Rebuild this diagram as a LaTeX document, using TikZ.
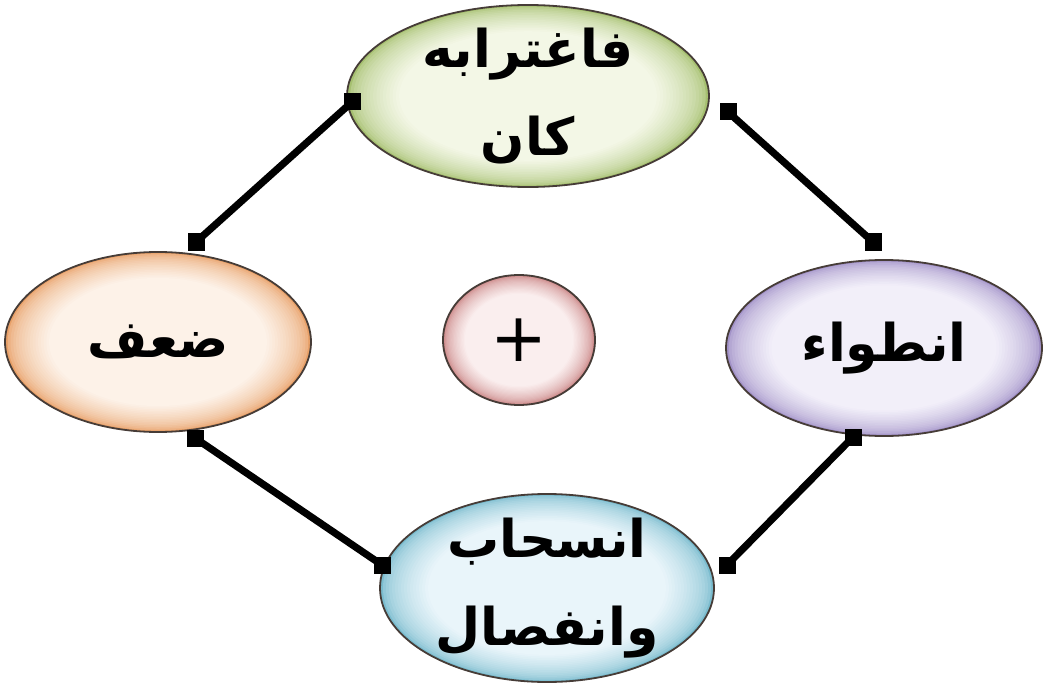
\documentclass[tikz,border=0pt]{standalone}
\usepackage{fontspec}
\TeXXeTstate=1
\newfontfamily\arabicfont[Script=Arabic]{DejaVu Sans}
\newfontfamily\plusfont{DejaVu Sans}
\definecolor{grnO}{RGB}{166,192,112}
\definecolor{grnI}{RGB}{243,247,230}
\definecolor{orgO}{RGB}{232,160,104}
\definecolor{orgI}{RGB}{253,242,232}
\definecolor{purO}{RGB}{162,146,200}
\definecolor{purI}{RGB}{242,239,249}
\definecolor{bluO}{RGB}{122,188,206}
\definecolor{bluI}{RGB}{233,245,250}
\definecolor{pnkO}{RGB}{200,128,128}
\definecolor{pnkI}{RGB}{250,238,238}
\definecolor{rim}{RGB}{70,60,55}
\usetikzlibrary{shapes.geometric}
\newcommand\bubfill[5]{%
  \foreach \i in {0,...,16}{%
    \pgfmathsetmacro\s{1-0.018*\i}%
    \pgfmathtruncatemacro\p{min(100,round(100*(\i/16)^0.55))}%
    \fill[#5!\p!#4] #1 ellipse [x radius={\s*#2pt}, y radius={\s*#3pt}];
  }%
  \draw[rim, line width=0.9pt] #1 ellipse [x radius={#2pt}, y radius={#3pt}];}
\tikzset{
  bubble/.style={inner sep=0pt, align=center,
    font=\arabicfont\bfseries\fontsize{26pt}{46pt}\selectfont},
  endsq/.style={rectangle, fill=black, minimum size=8.5pt, inner sep=0pt},
  link/.style={line width=3.6pt, black}
}
\begin{document}
\begin{tikzpicture}[x=0.5pt, y=-0.5pt]
\useasboundingbox (0,0) rectangle (1043,684);
% bubble fills
\bubfill{(528,96)}{90.5}{45.5}{grnO}{grnI}
\bubfill{(158,342)}{76.5}{45}{orgO}{orgI}
\bubfill{(884,348)}{79}{44}{purO}{purI}
\bubfill{(547,588)}{83.5}{47}{bluO}{bluI}
\bubfill{(519,340)}{38}{32.5}{pnkO}{pnkI}
% bubble texts
\node[bubble] (top) at (528,96)
  {\beginR فاغترابه\endR\\[-2pt]\beginR كان\endR};
\node[bubble] (left) at (158,342)
  {\beginR ضعف\endR};
\node[bubble] (right) at (884,348)
  {\beginR انطواء\endR};
\node[bubble] (bottom) at (547,588)
  {\beginR انسحاب\endR\\[-2pt]\beginR وانفصال\endR};
\node[bubble, font=\plusfont\fontsize{34pt}{40pt}\selectfont] (mid) at (519,340) {+};
% connector ends
\node[endsq] (tl1) at (352,102) {};
\node[endsq] (tl2) at (196,242) {};
\node[endsq] (tr1) at (728,112) {};
\node[endsq] (tr2) at (873,242) {};
\node[endsq] (bl1) at (195,438) {};
\node[endsq] (bl2) at (382,565) {};
\node[endsq] (br1) at (853,437) {};
\node[endsq] (br2) at (727,565) {};
\draw[link] (tl1.center) -- (tl2.center);
\draw[link] (tr1.center) -- (tr2.center);
\draw[link] (bl1.center) -- (bl2.center);
\draw[link] (br1.center) -- (br2.center);
\end{tikzpicture}
\end{document}
